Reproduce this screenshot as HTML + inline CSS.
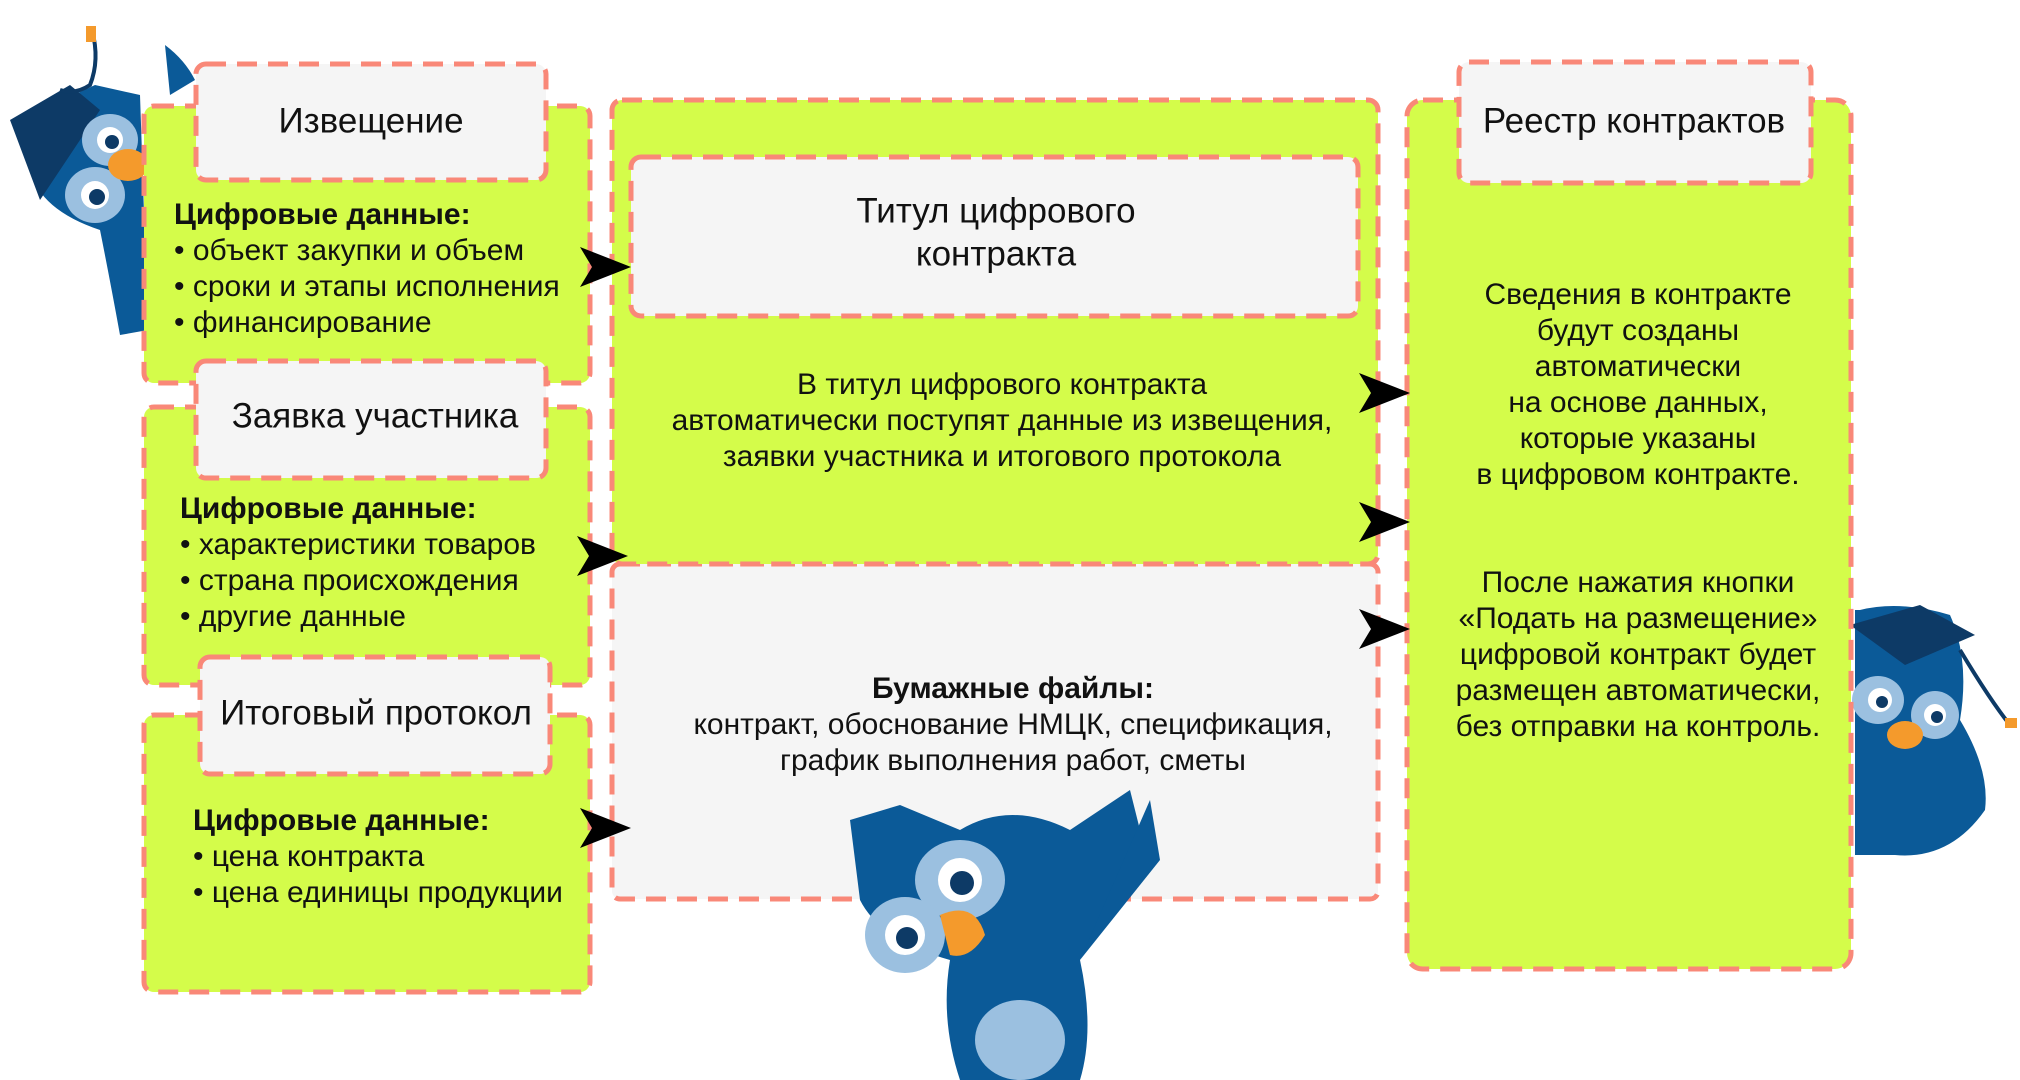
<!DOCTYPE html>
<html><head><meta charset="utf-8"><style>
html,body{margin:0;padding:0;background:#fff;}
svg{display:block;}
text{font-family:"Liberation Sans",sans-serif;fill:#111;}
</style></head><body>
<svg width="2020" height="1080" viewBox="0 0 2020 1080" xmlns="http://www.w3.org/2000/svg">
<g id="owlL">
 <path d="M20 120 L95 85 L140 95 L148 330 L120 335 Q110 280 100 230 Q40 210 30 170 Z" fill="#0b5a98"/>
 <path d="M10 120 L70 85 L100 110 L40 200 Z" fill="#0d3a66"/>
 <path d="M92 30 Q100 60 90 85 Q75 95 60 90" stroke="#0d3a66" stroke-width="4" fill="none"/>
 <rect x="86" y="26" width="10" height="16" fill="#f49a2c"/>
 <ellipse cx="110" cy="140" rx="28" ry="26" fill="#9bc0e0"/>
 <ellipse cx="95" cy="195" rx="30" ry="28" fill="#9bc0e0"/>
 <circle cx="110" cy="140" r="13" fill="#fff"/><circle cx="112" cy="142" r="7" fill="#0d3a66"/>
 <circle cx="95" cy="195" r="14" fill="#fff"/><circle cx="97" cy="197" r="8" fill="#0d3a66"/>
 <ellipse cx="128" cy="165" rx="20" ry="16" fill="#f49a2c"/>
 <path d="M165 45 Q185 60 195 80 L170 95 Z" fill="#0b5a98"/>
</g>
<g id="owlR">
 <path d="M1860 610 Q1900 600 1950 615 Q1970 660 1960 720 Q1990 770 1985 810 Q1950 860 1895 855 L1855 855 L1855 610 Z" fill="#0b5a98"/>
 <path d="M1850 625 L1920 605 L1975 635 L1905 665 Z" fill="#0d3a66"/>
 <ellipse cx="1878" cy="700" rx="26" ry="24" fill="#9bc0e0"/>
 <ellipse cx="1935" cy="715" rx="24" ry="24" fill="#9bc0e0"/>
 <circle cx="1880" cy="700" r="12" fill="#fff"/><circle cx="1935" cy="715" r="11" fill="#fff"/>
 <circle cx="1882" cy="702" r="6" fill="#0d3a66"/><circle cx="1937" cy="717" r="6" fill="#0d3a66"/>
 <ellipse cx="1905" cy="735" rx="18" ry="14" fill="#f49a2c"/>
 <path d="M1960 650 Q1990 700 2010 725" stroke="#0d3a66" stroke-width="4" fill="none"/>
 <rect x="2005" y="718" width="12" height="10" fill="#f49a2c"/>
</g>
<g stroke="#f98878" stroke-width="5" stroke-dasharray="20 11">
 <rect x="144" y="106" width="446" height="277" rx="10" fill="#d4fc4a"/>
 <rect x="144" y="407" width="446" height="278" rx="10" fill="#d4fc4a"/>
 <rect x="144" y="715" width="446" height="277" rx="10" fill="#d4fc4a"/>
 <rect x="612" y="564" width="766" height="335" rx="8" fill="#f5f5f5"/>
 <rect x="612" y="100" width="766" height="464" rx="10" fill="#d4fc4a"/>
 <rect x="631" y="157" width="727" height="159" rx="10" fill="#f5f5f5"/>
 <rect x="1407" y="100" width="444" height="869" rx="16" fill="#d4fc4a"/>
 <rect x="196" y="64" width="350" height="116" rx="10" fill="#f5f5f5"/>
 <rect x="196" y="361" width="350" height="117" rx="10" fill="#f5f5f5"/>
 <rect x="200" y="657" width="350" height="117" rx="10" fill="#f5f5f5"/>
 <rect x="1459" y="62" width="352" height="121" rx="10" fill="#f5f5f5"/>
</g>
<g fill="#000">
 <path d="M580 247 L631 267 L580 287 L592 267 Z"/>
 <path d="M577 536 L628 556 L577 576 L589 556 Z"/>
 <path d="M580 808 L631 828 L580 848 L592 828 Z"/>
 <path d="M1359 373 L1410 393 L1359 413 L1371 393 Z"/>
 <path d="M1359 502 L1410 522 L1359 542 L1371 522 Z"/>
 <path d="M1359 609 L1410 629 L1359 649 L1371 629 Z"/>
</g>
<g font-size="35" text-anchor="middle" dominant-baseline="middle">
 <text x="371" y="123">Извещение</text>
 <text x="375" y="418">Заявка участника</text>
 <text x="376" y="715">Итоговый протокол</text>
 <text x="1634" y="123">Реестр контрактов</text>
 <text x="996" y="213">Титул цифрового</text>
 <text x="996" y="256">контракта</text>
</g>
<g font-size="30" dominant-baseline="middle">
 <text x="174" y="216" font-weight="bold">Цифровые данные:</text>
 <text x="174" y="252">• объект закупки и объем</text>
 <text x="174" y="288">• сроки и этапы исполнения</text>
 <text x="174" y="324">• финансирование</text>
 <text x="180" y="510" font-weight="bold">Цифровые данные:</text>
 <text x="180" y="546">• характеристики товаров</text>
 <text x="180" y="582">• страна происхождения</text>
 <text x="180" y="618">• другие данные</text>
 <text x="193" y="822" font-weight="bold">Цифровые данные:</text>
 <text x="193" y="858">• цена контракта</text>
 <text x="193" y="894">• цена единицы продукции</text>
</g>
<g font-size="30" text-anchor="middle" dominant-baseline="middle">
 <text x="1002" y="386">В титул цифрового контракта</text>
 <text x="1002" y="422">автоматически поступят данные из извещения,</text>
 <text x="1002" y="458">заявки участника и итогового протокола</text>
 <text x="1013" y="690" font-weight="bold">Бумажные файлы:</text>
 <text x="1013" y="726">контракт, обоснование НМЦК, спецификация,</text>
 <text x="1013" y="762">график выполнения работ, сметы</text>
 <text x="1638" y="296">Сведения в контракте</text>
 <text x="1638" y="332">будут созданы</text>
 <text x="1638" y="368">автоматически</text>
 <text x="1638" y="404">на основе данных,</text>
 <text x="1638" y="440">которые указаны</text>
 <text x="1638" y="476">в цифровом контракте.</text>
 <text x="1638" y="584">После нажатия кнопки</text>
 <text x="1638" y="620">«Подать на размещение»</text>
 <text x="1638" y="656">цифровой контракт будет</text>
 <text x="1638" y="692">размещен автоматически,</text>
 <text x="1638" y="728">без отправки на контроль.</text>
</g>
<g id="owlB">
 <path d="M850 820 L900 805 L960 830 Q1010 800 1070 830 L1130 790 L1150 870 Q1100 920 1080 960 Q1095 1030 1080 1080 L960 1080 Q940 1020 950 960 Q880 940 860 900 Z" fill="#0b5a98"/>
 <path d="M1080 960 L1150 800 L1160 860 Z" fill="#0b5a98"/>
 <ellipse cx="960" cy="880" rx="45" ry="40" fill="#9bc0e0"/>
 <ellipse cx="905" cy="935" rx="40" ry="38" fill="#9bc0e0"/>
 <circle cx="960" cy="880" r="22" fill="#fff"/><circle cx="962" cy="883" r="12" fill="#0d3a66"/>
 <circle cx="905" cy="935" r="20" fill="#fff"/><circle cx="907" cy="938" r="11" fill="#0d3a66"/>
 <path d="M940 915 Q975 900 985 935 Q970 960 950 955 Z" fill="#f49a2c"/>
 <ellipse cx="1020" cy="1040" rx="45" ry="40" fill="#9bc0e0"/>
</g>
</svg>
</body></html>
